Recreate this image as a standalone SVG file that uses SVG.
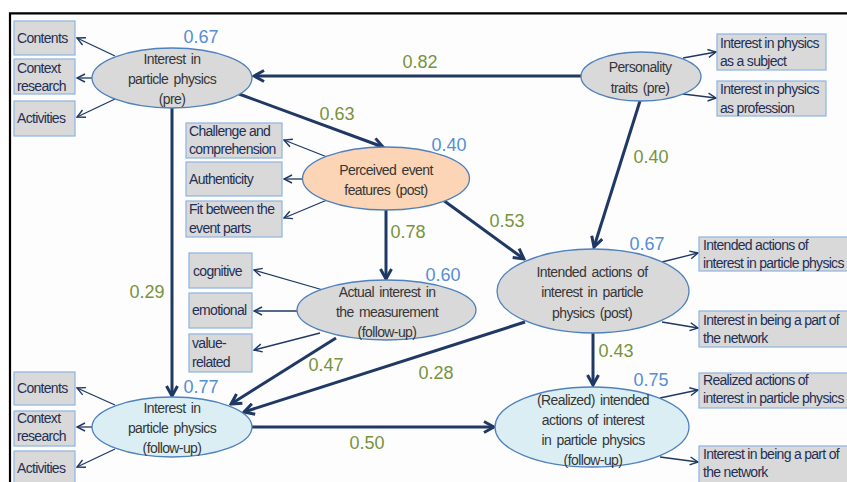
<svg xmlns="http://www.w3.org/2000/svg" width="847" height="482" viewBox="0 0 847 482">
<style>
.bg{fill:#fdfdfd}
.frame{stroke:#000;stroke-width:2.2;fill:none}
.box{fill:#d9d9d9;stroke:#8eb4e3;stroke-width:1.2}
.bt{font-family:"Liberation Sans",Arial,sans-serif;font-size:14px;letter-spacing:-0.7px;fill:#1f2f55}
.ell{fill:#d9d9d9;stroke:#4f81bd;stroke-width:1.3}
.orange{fill:#fbd5b5}
.lblue{fill:#dbeef4}
.et{font-family:"Liberation Sans",Arial,sans-serif;font-size:14px;letter-spacing:-0.6px;fill:#363636;text-anchor:middle;word-spacing:2px}
.thick{stroke:#1f3864;stroke-width:3;fill:none;marker-end:url(#ah)}
.thin{stroke:#1f3864;stroke-width:1.3;fill:none;marker-end:url(#ahs)}
.g{font-family:"Liberation Sans",Arial,sans-serif;font-size:18px;fill:#77933c;text-anchor:middle}
.b{font-family:"Liberation Sans",Arial,sans-serif;font-size:18px;fill:#558ed5;text-anchor:middle}
</style>
<defs>
<marker id="ah" markerUnits="userSpaceOnUse" viewBox="0 0 14 14" markerWidth="14" markerHeight="14" refX="12" refY="7" orient="auto">
<path d="M2,1.5 L12,7 L2,12.5" fill="none" stroke="#1f3864" stroke-width="3" stroke-linejoin="miter"/>
</marker>
<marker id="ahs" markerUnits="userSpaceOnUse" viewBox="0 0 10 10" markerWidth="10" markerHeight="10" refX="9" refY="5" orient="auto">
<path d="M1,1 L9,5 L1,9" fill="none" stroke="#1f3864" stroke-width="1.4"/>
</marker>
</defs>
<rect x="0" y="0" width="847" height="482" fill="#ffffff"/>
<rect class="bg" x="10" y="13" width="837" height="469"/>
<path class="frame" d="M10,482 L10,13.3 L847,13.3"/>

<g id="connectors">
<line class="thick" x1="581" y1="76" x2="254" y2="76"/>
<line class="thick" x1="172" y1="108" x2="172" y2="396"/>
<line class="thick" x1="239" y1="94" x2="383" y2="147"/>
<line class="thick" x1="386" y1="210" x2="386" y2="279"/>
<line class="thick" x1="443" y1="200" x2="524" y2="259"/>
<line class="thick" x1="640" y1="101" x2="594" y2="247"/>
<line class="thick" x1="593" y1="333" x2="593" y2="385"/>
<line class="thick" x1="336" y1="338" x2="231" y2="404"/>
<line class="thick" x1="525" y1="322" x2="244" y2="412"/>
<line class="thick" x1="252" y1="427" x2="494" y2="427"/>

<line class="thin" x1="115" y1="56" x2="77" y2="38"/>
<line class="thin" x1="92" y1="78" x2="77" y2="78"/>
<line class="thin" x1="115" y1="99" x2="77" y2="117"/>
<line class="thin" x1="327" y1="157" x2="284" y2="140"/>
<line class="thin" x1="302" y1="179" x2="284" y2="179"/>
<line class="thin" x1="327" y1="200" x2="284" y2="218"/>
<line class="thin" x1="323" y1="290" x2="254" y2="270"/>
<line class="thin" x1="297" y1="311" x2="254" y2="311"/>
<line class="thin" x1="320" y1="333" x2="254" y2="350"/>
<line class="thin" x1="683" y1="58" x2="716" y2="52"/>
<line class="thin" x1="683" y1="94" x2="716" y2="98"/>
<line class="thin" x1="662" y1="262" x2="698" y2="253"/>
<line class="thin" x1="662" y1="322" x2="698" y2="328"/>
<line class="thin" x1="660" y1="398" x2="698" y2="390"/>
<line class="thin" x1="660" y1="457" x2="698" y2="462"/>
<line class="thin" x1="115" y1="405" x2="77" y2="388"/>
<line class="thin" x1="92" y1="427" x2="77" y2="427"/>
<line class="thin" x1="115" y1="449" x2="77" y2="467"/>
</g>

<g id="labels">
<text class="g" x="420" y="68">0.82</text>
<text class="g" x="337" y="120">0.63</text>
<text class="g" x="651" y="163">0.40</text>
<text class="g" x="507" y="227">0.53</text>
<text class="g" x="408" y="238">0.78</text>
<text class="g" x="147" y="298">0.29</text>
<text class="g" x="616" y="357">0.43</text>
<text class="g" x="326" y="371">0.47</text>
<text class="g" x="436" y="379">0.28</text>
<text class="g" x="367" y="449">0.50</text>
<text class="b" x="201" y="43">0.67</text>
<text class="b" x="449" y="151">0.40</text>
<text class="b" x="647" y="250">0.67</text>
<text class="b" x="443" y="281">0.60</text>
<text class="b" x="201" y="393">0.77</text>
<text class="b" x="651" y="386">0.75</text>
</g>

<g id="pre">
<ellipse class="ell" cx="172" cy="78" rx="80" ry="30"/>
<text class="et" x="172" y="64">Interest in</text>
<text class="et" x="172" y="84">particle physics</text>
<text class="et" x="172" y="104">(pre)</text>
</g>
<g id="perceived">
<ellipse class="ell orange" cx="386" cy="178.5" rx="83.5" ry="31.5"/>
<text class="et" x="386" y="175">Perceived event</text>
<text class="et" x="386" y="195">features (post)</text>
</g>
<g id="actual">
<ellipse class="ell" cx="386.5" cy="310" rx="89.5" ry="30"/>
<text class="et" x="387" y="297">Actual interest in</text>
<text class="et" x="387" y="317">the measurement</text>
<text class="et" x="387" y="337">(follow-up)</text>
</g>
<g id="personality">
<ellipse class="ell" cx="641" cy="76.5" rx="60" ry="24.5"/>
<text class="et" x="640" y="72">Personality</text>
<text class="et" x="640" y="93">traits (pre)</text>
</g>
<g id="intended">
<ellipse class="ell" cx="593" cy="291" rx="96" ry="42"/>
<text class="et" x="592" y="277">Intended actions of</text>
<text class="et" x="592" y="297">interest in particle</text>
<text class="et" x="592" y="318">physics (post)</text>
</g>
<g id="realized">
<ellipse class="ell lblue" cx="592" cy="427" rx="97" ry="40"/>
<text class="et" x="593" y="405">(Realized) intended</text>
<text class="et" x="593" y="425">actions of interest</text>
<text class="et" x="593" y="445">in particle physics</text>
<text class="et" x="593" y="465">(follow-up)</text>
</g>
<g id="followup">
<ellipse class="ell lblue" cx="172" cy="427" rx="80" ry="30"/>
<text class="et" x="172" y="413">Interest in</text>
<text class="et" x="172" y="433">particle physics</text>
<text class="et" x="172" y="453">(follow-up)</text>
</g>

<g id="box-contents-pre"><rect class="box" x="14" y="21" width="61" height="34"/><text class="bt" x="17" y="43">Contents</text></g>
<g id="box-context-pre"><rect class="box" x="14" y="59" width="61" height="35"/><text class="bt" x="17" y="73">Context</text><text class="bt" x="17" y="91">research</text></g>
<g id="box-activities-pre"><rect class="box" x="14" y="101" width="61" height="35"/><text class="bt" x="17" y="123">Activities</text></g>
<g id="box-challenge"><rect class="box" x="186" y="123" width="96" height="35"/><text class="bt" x="189" y="136">Challenge and</text><text class="bt" x="189" y="154">comprehension</text></g>
<g id="box-authenticity"><rect class="box" x="186" y="162" width="96" height="34"/><text class="bt" x="189" y="184">Authenticity</text></g>
<g id="box-fit"><rect class="box" x="186" y="201" width="96" height="36"/><text class="bt" x="189" y="214">Fit between the</text><text class="bt" x="189" y="233">event parts</text></g>
<g id="box-cognitive"><rect class="box" x="189" y="253" width="63" height="35"/><text class="bt" x="193" y="276">cognitive</text></g>
<g id="box-emotional"><rect class="box" x="189" y="293" width="63" height="35"/><text class="bt" x="192" y="315">emotional</text></g>
<g id="box-value"><rect class="box" x="189" y="334" width="63" height="38"/><text class="bt" x="192" y="348">value-</text><text class="bt" x="192" y="367">related</text></g>
<g id="box-subject"><rect class="box" x="717" y="34" width="109" height="36"/><text class="bt" x="720" y="48">Interest in physics</text><text class="bt" x="720" y="66">as a subject</text></g>
<g id="box-profession"><rect class="box" x="717" y="81" width="109" height="35"/><text class="bt" x="720" y="94">Interest in physics</text><text class="bt" x="720" y="113">as profession</text></g>
<g id="box-intended-actions"><rect class="box" x="699" y="237" width="160" height="34"/><text class="bt" x="703" y="250">Intended actions of</text><text class="bt" x="703" y="268">interest in particle physics</text></g>
<g id="box-network-post"><rect class="box" x="699" y="311" width="160" height="36"/><text class="bt" x="703" y="325">Interest in being a part of</text><text class="bt" x="703" y="343">the network</text></g>
<g id="box-realized-actions"><rect class="box" x="699" y="373" width="160" height="35"/><text class="bt" x="703" y="385">Realized actions of</text><text class="bt" x="703" y="403">interest in particle physics</text></g>
<g id="box-network-follow"><rect class="box" x="699" y="446" width="160" height="40"/><text class="bt" x="703" y="459">Interest in being a part of</text><text class="bt" x="703" y="477">the network</text></g>
<g id="box-contents-fu"><rect class="box" x="14" y="372" width="61" height="33"/><text class="bt" x="17" y="393">Contents</text></g>
<g id="box-context-fu"><rect class="box" x="14" y="411" width="61" height="35"/><text class="bt" x="17" y="423">Context</text><text class="bt" x="17" y="441">research</text></g>
<g id="box-activities-fu"><rect class="box" x="14" y="451" width="61" height="36"/><text class="bt" x="17" y="473">Activities</text></g>
</svg>
